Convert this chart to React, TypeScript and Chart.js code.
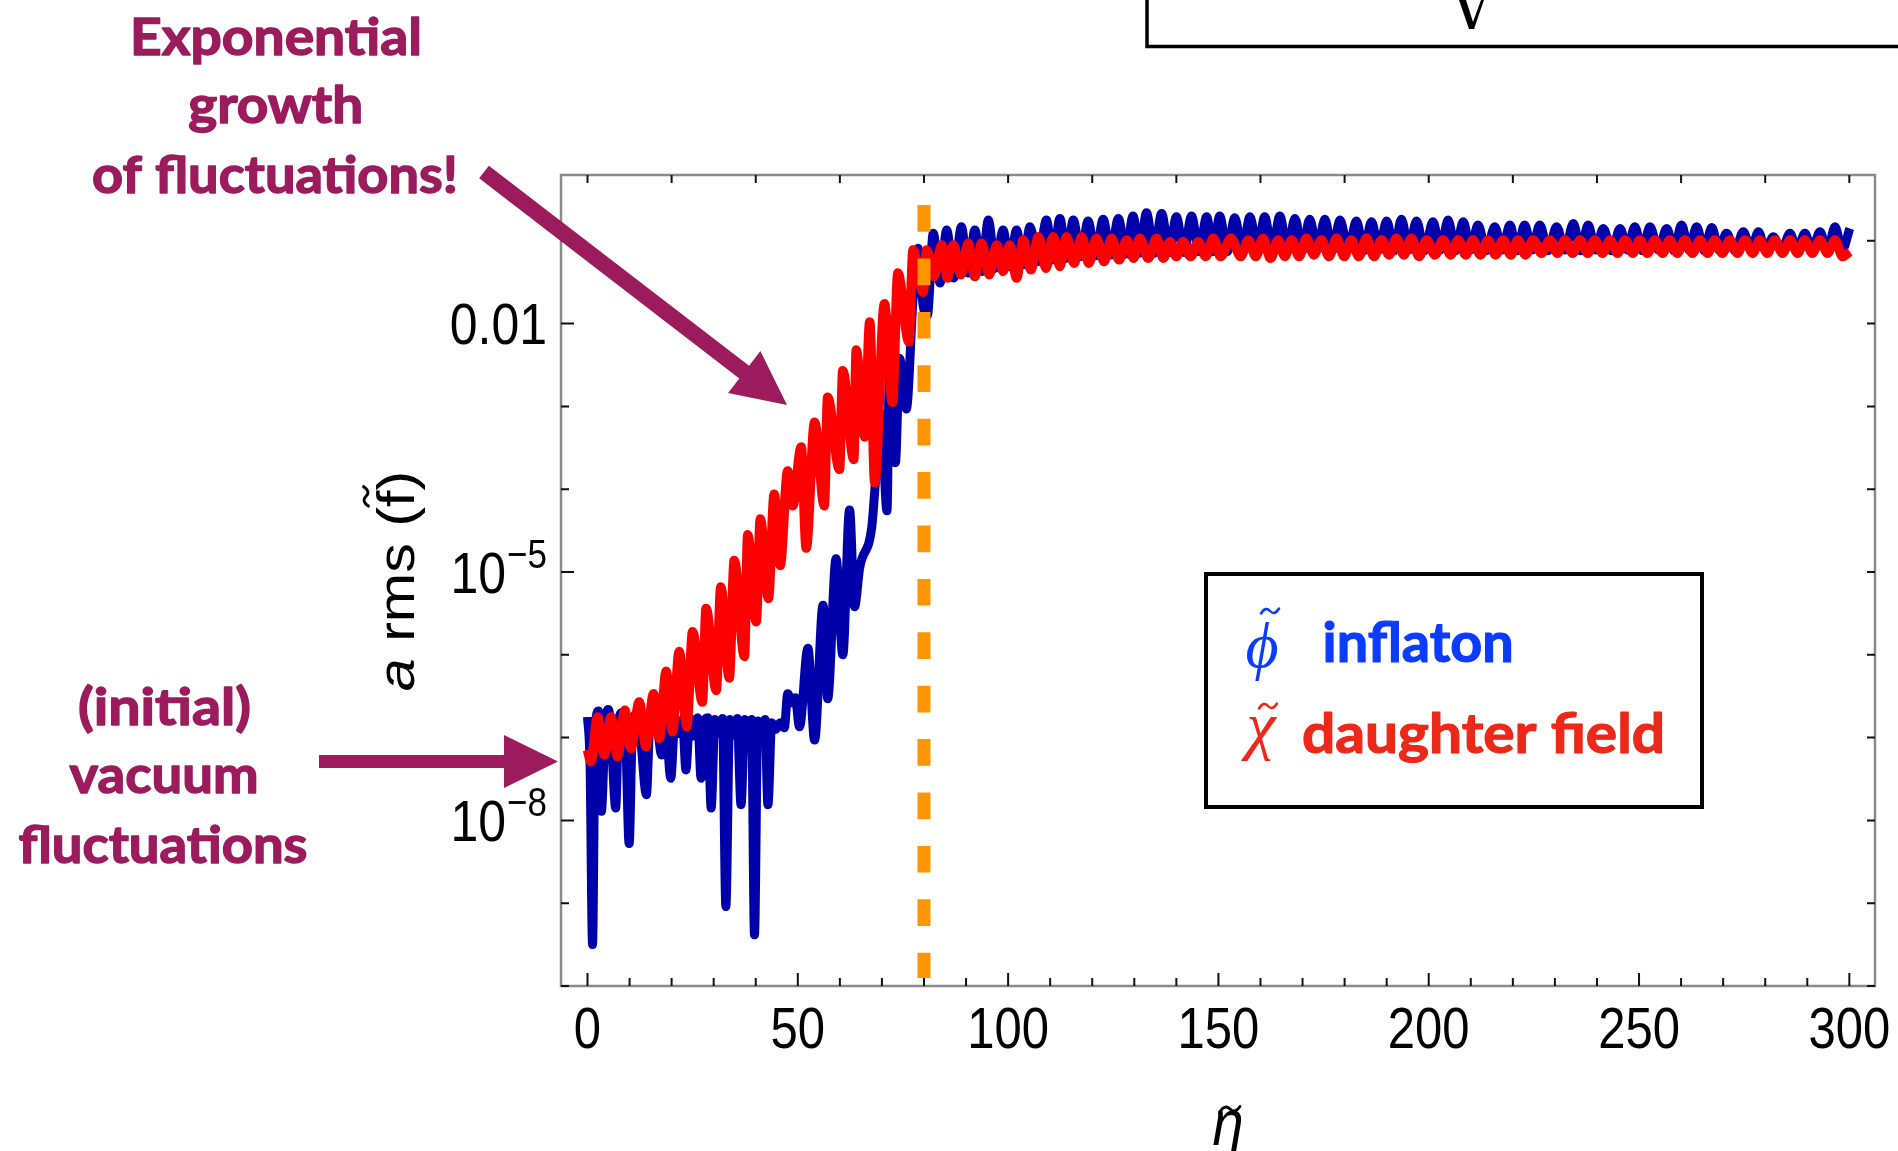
import React, { useEffect, useRef } from "react";
import { Chart, registerables } from "chart.js";

Chart.register(...registerables);

// [eta, log10(a rms)]
const inflatonPoints: [number, number][] = [
  [0, -6.75], [0.6, -7.3], [1.2, -9.5], [1.8, -6.95], [2.6, -6.68], [3.3, -7.89], [4.2, -6.85], [5.0, -6.66],
  [5.8, -7.15], [6.7, -7.85], [7.4, -6.8], [8.2, -6.7], [9.1, -7.05], [9.9, -8.28], [10.7, -6.85], [11.6, -6.72],
  [12.6, -7.0], [14.0, -7.69], [14.8, -6.85], [15.8, -6.73], [16.8, -6.95], [17.6, -7.21], [18.5, -6.78], [19.8, -7.49],
  [20.8, -6.78], [21.8, -6.95], [22.6, -6.78], [23.4, -7.39], [24.3, -6.76], [25.3, -6.98], [26.2, -6.76], [27.0, -7.49],
  [27.8, -6.8], [28.6, -6.76], [29.4, -7.85], [30.3, -6.78], [31.2, -6.95], [32.1, -6.77], [32.9, -9.04], [33.8, -6.78],
  [34.8, -6.97], [35.6, -6.77], [36.5, -7.81], [37.4, -6.78], [38.3, -6.97], [39.0, -6.78], [39.7, -9.38], [40.5, -6.8],
  [41.5, -6.96], [42.2, -6.78], [42.9, -7.81], [43.8, -6.82], [44.8, -6.9], [45.8, -6.82], [46.8, -6.88], [47.6, -6.47],
  [48.6, -6.58], [49.4, -6.52], [50.4, -6.87], [52.4, -5.92], [54.0, -7.03], [56.0, -5.4], [57.1, -6.53], [59.1, -4.84],
  [60.7, -6.0], [62.3, -4.25], [63.5, -5.42], [64.7, -4.95], [67.6, -4.45], [68.4, -3.95], [69.8, -3.09], [71.2, -4.26],
  [71.8, -2.55], [73.2, -3.68], [74.2, -2.42], [75.8, -3.03], [77.4, -1.7], [78.6, -1.09], [79.8, -1.78], [80.8, -1.9],
  [82.2, -0.91], [83.8, -1.51], [85.4, -0.87], [87.1, -1.45], [88.9, -0.83], [90.5, -1.39], [92.1, -0.87], [93.7, -1.37],
  [95.3, -0.75], [97.0, -1.33], [98.8, -0.87], [100.4, -1.31], [102.0, -0.87], [103.6, -1.29], [105.2, -0.83], [107.2, -1.25],
  [109.1, -0.75], [110.7, -1.23], [112.3, -0.73], [113.9, -1.21], [115.5, -0.75], [117.3, -1.19], [119.0, -0.76], [120.8, -1.18],
  [122.6, -0.74], [124.4, -1.17], [126.2, -0.73], [128.0, -1.16], [129.7, -0.7], [131.3, -1.15], [132.9, -0.66], [134.7, -1.15],
  [136.5, -0.67], [138.3, -1.14], [140.0, -0.71], [141.8, -1.14], [143.6, -0.7], [145.4, -1.13], [147.2, -0.71], [148.8, -1.13],
  [150.3, -0.7], [152.1, -1.13], [153.9, -0.72], [155.7, -1.12], [157.5, -0.71], [159.3, -1.11], [161.0, -0.71], [162.8, -1.12],
  [164.6, -0.7], [166.4, -1.11], [168.2, -0.73], [170.0, -1.12], [171.7, -0.74], [173.5, -1.11], [175.3, -0.74], [177.1, -1.12],
  [178.9, -0.75], [180.9, -1.11], [182.8, -0.76], [184.6, -1.12], [186.4, -0.77], [188.2, -1.11], [190.0, -0.76], [191.8, -1.12],
  [193.5, -0.74], [195.3, -1.11], [197.1, -0.76], [199.0, -1.12], [201.0, -0.77], [202.8, -1.11], [204.6, -0.75], [206.4, -1.12],
  [208.2, -0.77], [210.0, -1.11], [211.7, -0.81], [213.7, -1.12], [215.7, -0.83], [217.5, -1.11], [219.3, -0.81], [221.0, -1.12],
  [222.8, -0.81], [224.6, -1.11], [226.4, -0.81], [228.4, -1.12], [230.4, -0.83], [232.4, -1.11], [234.4, -0.79], [236.1, -1.12],
  [237.9, -0.81], [239.7, -1.11], [241.5, -0.85], [243.5, -1.12], [245.5, -0.85], [247.2, -1.11], [249.0, -0.83], [250.8, -1.12],
  [252.6, -0.83], [254.6, -1.11], [256.6, -0.85], [258.3, -1.12], [260.1, -0.81], [261.9, -1.11], [263.7, -0.83], [265.5, -1.12],
  [267.3, -0.84], [269.0, -1.11], [270.8, -0.91], [272.8, -1.12], [274.8, -0.89], [276.6, -1.11], [278.4, -0.89], [280.1, -1.12],
  [281.9, -0.95], [283.9, -1.11], [285.9, -0.91], [287.6, -1.12], [289.4, -0.91], [291.2, -1.11], [293.0, -0.89], [294.8, -1.12],
  [296.6, -0.83], [298.3, -1.11], [300.1, -0.85],
];

const daughterPoints: [number, number][] = [
  [0, -7.15], [0.8, -7.29], [2.4, -6.75], [4.0, -7.21], [5.6, -6.75], [7.1, -7.23], [8.9, -6.67], [10.3, -7.13],
  [12.3, -6.57], [13.9, -7.11], [15.7, -6.47], [17.1, -7.01], [18.7, -6.2], [20.2, -6.93], [21.8, -5.96], [23.6, -6.87],
  [25.0, -5.72], [27.3, -6.57], [28.2, -5.44], [30.6, -6.43], [31.7, -5.18], [33.7, -6.28], [34.9, -4.86], [37.3, -6.02],
  [38.1, -4.55], [40.1, -5.6], [41.1, -4.36], [43.0, -5.32], [44.4, -4.06], [45.8, -4.92], [47.6, -3.78], [48.8, -4.2],
  [50.8, -3.49], [52.0, -4.71], [54.0, -3.19], [56.3, -4.2], [57.1, -2.89], [59.9, -3.76], [60.7, -2.57], [63.3, -3.64],
  [63.9, -2.32], [65.9, -3.37], [67.1, -1.98], [68.3, -3.92], [70.6, -1.76], [72.5, -2.95], [73.8, -1.39], [76.4, -2.22],
  [77.4, -1.11], [79.8, -1.62], [80.6, -1.11], [82.4, -1.43], [84.2, -1.05], [85.6, -1.45], [87.0, -1.05], [88.8, -1.41],
  [90.5, -1.03], [92.1, -1.43], [93.7, -1.03], [95.5, -1.41], [97.3, -1.05], [98.8, -1.37], [100.4, -1.05], [102.0, -1.45],
  [103.6, -0.99], [105.4, -1.35], [107.2, -0.95], [109.0, -1.33], [110.7, -0.95], [112.3, -1.31], [113.9, -0.95], [115.7, -1.27],
  [117.5, -0.95], [119.2, -1.27], [121.0, -0.97], [122.8, -1.25], [124.6, -0.97], [126.4, -1.23], [128.2, -0.99], [129.8, -1.21],
  [131.3, -0.97], [133.3, -1.21], [135.3, -0.97], [136.9, -1.21], [138.5, -1.01], [140.0, -1.19], [141.6, -1.01], [143.4, -1.19],
  [145.2, -1.01], [147.0, -1.19], [148.8, -0.97], [150.5, -1.19], [153.0, -0.97], [155.3, -1.19], [157.1, -0.99], [158.9, -1.19],
  [160.6, -0.97], [162.4, -1.21], [164.2, -0.99], [165.8, -1.19], [167.4, -0.99], [169.2, -1.19], [170.9, -0.97], [172.7, -1.17],
  [174.5, -0.99], [176.3, -1.19], [178.1, -0.97], [179.9, -1.19], [181.6, -0.99], [183.4, -1.19], [185.2, -0.97], [187.0, -1.19],
  [188.8, -0.99], [190.6, -1.17], [192.3, -0.97], [194.1, -1.17], [195.9, -0.97], [197.7, -1.19], [199.5, -0.99], [201.5, -1.17],
  [203.4, -0.99], [205.2, -1.17], [207.0, -0.99], [208.8, -1.17], [210.5, -0.99], [212.3, -1.17], [214.1, -0.99], [215.9, -1.17],
  [217.7, -0.99], [219.5, -1.17], [221.2, -0.99], [223.0, -1.17], [224.8, -0.99], [226.8, -1.15], [228.8, -0.99], [230.6, -1.15],
  [232.4, -0.99], [234.2, -1.15], [236.0, -0.99], [237.8, -1.15], [239.5, -0.99], [241.3, -1.15], [243.1, -0.99], [244.9, -1.15],
  [246.7, -0.99], [248.5, -1.15], [250.2, -0.99], [252.0, -1.15], [253.8, -0.99], [255.6, -1.15], [257.3, -0.99], [259.1, -1.15],
  [260.9, -0.99], [262.7, -1.15], [264.5, -0.99], [266.3, -1.15], [268.0, -0.99], [269.8, -1.15], [271.6, -0.99], [273.4, -1.15],
  [275.2, -0.99], [277.0, -1.15], [278.7, -0.99], [280.5, -1.15], [282.3, -0.99], [284.1, -1.15], [285.9, -0.99], [287.7, -1.15],
  [289.4, -0.99], [291.2, -1.15], [293.0, -0.99], [294.8, -1.15], [296.6, -0.99], [298.4, -1.19], [300.1, -1.13],
];

// vertical dashed marker at the end of preheating
const markerEta = [80, 80];
const markerValue = [0.27, 1.25e-10];

const xMinorTicks = [0, 10, 20, 30, 40, 50, 60, 70, 80, 90, 100, 110, 120, 130, 140, 150, 160, 170, 180, 190, 200, 210, 220, 230, 240, 250, 260, 270, 280, 290, 300];
const xLabelTicks = [0, 50, 100, 150, 200, 250, 300];
const xTopTicks = [0, 20, 40, 60, 80, 100, 120, 140, 160, 180, 200, 220, 240, 260, 280, 300];
const yDecadeExps = [-10, -9, -8, -7, -6, -5, -4, -3, -2, -1];
const yLabelExps = [-2, -5, -8];
const yLabelBases = ["0.01", "10", "10"];
const yLabelSups = ["", "\u22125", "\u22128"];

const growthNote = ["Exponential", "growth", "of fluctuations!"];
const vacuumNote = ["(initial)", "vacuum", "fluctuations"];
const legendSymbols = ["\u03D5", "\u03C7"];
const legendNames = ["inflaton", "daughter field"];

const SANS = "'Liberation Sans', Arial, sans-serif";
const LATO = "Lato, 'Noto Sans', sans-serif";
const SERIF = "'Liberation Serif', 'DejaVu Serif', serif";
const MAROON = "#9B1B5D";

function fillScaled(ctx: CanvasRenderingContext2D, text: string, x: number, y: number, font: string, color: string, sx: number, sy: number, align: CanvasTextAlign, stroke = 0) {
  ctx.save();
  ctx.font = font;
  ctx.fillStyle = color;
  ctx.textAlign = align;
  ctx.textBaseline = "alphabetic";
  ctx.translate(x, y);
  ctx.scale(sx, sy);
  ctx.fillText(text, 0, 0);
  if (stroke > 0) {
    ctx.strokeStyle = color;
    ctx.lineWidth = stroke;
    ctx.lineJoin = "round";
    ctx.strokeText(text, 0, 0);
  }
  ctx.restore();
}

function fillFit(ctx: CanvasRenderingContext2D, text: string, x: number, y: number, font: string, color: string, targetW: number, align: CanvasTextAlign, stroke = 0) {
  ctx.font = font;
  const w = ctx.measureText(text).width;
  fillScaled(ctx, text, x, y, font, color, targetW / w, 1, align, stroke);
}

function drawTilde(ctx: CanvasRenderingContext2D, cx: number, cy: number, w: number, h: number, lw: number, color: string) {
  ctx.save();
  ctx.strokeStyle = color;
  ctx.lineWidth = lw;
  ctx.lineCap = "round";
  ctx.beginPath();
  ctx.moveTo(cx - w / 2, cy + h / 2);
  ctx.quadraticCurveTo(cx - w / 4, cy - h, cx, cy);
  ctx.quadraticCurveTo(cx + w / 4, cy + h, cx + w / 2, cy - h / 2);
  ctx.stroke();
  ctx.restore();
}

function drawArrow(ctx: CanvasRenderingContext2D, x0: number, y0: number, x1: number, y1: number, shaft: number, headLen: number, headHalf: number, color: string) {
  const dx = x1 - x0, dy = y1 - y0;
  const L = Math.hypot(dx, dy);
  const ux = dx / L, uy = dy / L;
  const nx = -uy, ny = ux;
  const bx = x1 - ux * headLen, by = y1 - uy * headLen;
  ctx.save();
  ctx.fillStyle = color;
  ctx.beginPath();
  ctx.moveTo(x0 + nx * shaft / 2, y0 + ny * shaft / 2);
  ctx.lineTo(bx + nx * shaft / 2, by + ny * shaft / 2);
  ctx.lineTo(bx + nx * headHalf, by + ny * headHalf);
  ctx.lineTo(x1, y1);
  ctx.lineTo(bx - nx * headHalf, by - ny * headHalf);
  ctx.lineTo(bx - nx * shaft / 2, by - ny * shaft / 2);
  ctx.lineTo(x0 - nx * shaft / 2, y0 - ny * shaft / 2);
  ctx.closePath();
  ctx.fill();
  ctx.restore();
}

const decorPlugin = {
  id: "decor",
  afterDraw(chart: any) {
    const ctx: CanvasRenderingContext2D = chart.ctx;
    const xs = chart.scales.x;
    const ys = chart.scales.y;
    const { left, right, top, bottom } = chart.chartArea;
    ctx.save();

    // frame
    ctx.strokeStyle = "#8a8a8a";
    ctx.lineWidth = 2.5;
    ctx.strokeRect(left, top, right - left, bottom - top);

    // ticks
    ctx.strokeStyle = "#111";
    ctx.lineWidth = 2;
    ctx.beginPath();
    xMinorTicks.forEach((v) => {
      const px = xs.getPixelForValue(v);
      const len = xLabelTicks.includes(v) ? 13 : 8;
      ctx.moveTo(px, bottom);
      ctx.lineTo(px, bottom - len);
    });
    xTopTicks.forEach((v) => {
      const px = xs.getPixelForValue(v);
      ctx.moveTo(px, top);
      ctx.lineTo(px, top + 8);
    });
    yDecadeExps.forEach((e) => {
      const py = ys.getPixelForValue(Math.pow(10, e));
      const len = yLabelExps.includes(e) ? 13 : 8;
      ctx.moveTo(left, py);
      ctx.lineTo(left + len, py);
      ctx.moveTo(right, py);
      ctx.lineTo(right - 8, py);
    });
    ctx.stroke();

    // x tick labels
    xLabelTicks.forEach((v) => {
      const px = xs.getPixelForValue(v);
      fillScaled(ctx, String(v), px, 1048, `49px ${SANS}`, "#000", 1, 1.16, "center");
    });

    // y tick labels
    yLabelExps.forEach((e, i) => {
      const py = ys.getPixelForValue(Math.pow(10, e));
      const rightEdge = 547;
      if (!yLabelSups[i]) {
        fillScaled(ctx, yLabelBases[i], rightEdge, py + 20.5, `50px ${SANS}`, "#000", 1, 1.16, "right");
      } else {
        ctx.font = `35px ${SANS}`;
        const ws = ctx.measureText(yLabelSups[i]).width;
        fillScaled(ctx, yLabelSups[i], rightEdge, py - 4, `35px ${SANS}`, "#000", 1, 1.16, "right");
        fillScaled(ctx, yLabelBases[i], rightEdge - ws - 1, py + 21, `50px ${SANS}`, "#000", 1, 1.16, "right");
      }
    });

    // y axis title: a rms (f~)
    ctx.save();
    ctx.translate(414, 581);
    ctx.rotate(-Math.PI / 2);
    ctx.scale(1.14, 1);
    ctx.fillStyle = "#000";
    ctx.textBaseline = "alphabetic";
    ctx.textAlign = "left";
    const fItal = `italic 52px ${SANS}`;
    const fReg = `52px ${SANS}`;
    ctx.font = fItal;
    const wa = ctx.measureText("a").width;
    ctx.font = fReg;
    const s1 = " rms (", s2 = "f", s3 = ")";
    const w1 = ctx.measureText(s1).width, w2 = ctx.measureText(s2).width, w3 = ctx.measureText(s3).width;
    const x0 = -(wa + w1 + w2 + w3) / 2;
    ctx.font = fItal;
    ctx.fillText("a", x0, 0);
    ctx.font = fReg;
    ctx.fillText(s1, x0 + wa, 0);
    ctx.fillText(s2, x0 + wa + w1, 0);
    ctx.fillText(s3, x0 + wa + w1 + w2, 0);
    drawTilde(ctx, x0 + wa + w1 + w2 / 2 + 2, -48, 17, 5, 2.8, "#000");
    ctx.restore();

    // x axis title: eta~
    fillScaled(ctx, "\u03B7", 1228, 1145, `italic 56px ${SANS}`, "#000", 1, 1.16, "center");
    drawTilde(ctx, 1230, 1109, 20, 5, 2.8, "#000");

    // annotations
    const noteFont = `bold 51px ${LATO}`;
    fillFit(ctx, growthNote[0], 276, 55, noteFont, MAROON, 292, "center", 1.4);
    fillFit(ctx, growthNote[1], 275.7, 123.3, noteFont, MAROON, 175, "center", 1.4);
    fillFit(ctx, growthNote[2], 275, 193.3, noteFont, MAROON, 366, "center", 1.4);
    fillFit(ctx, vacuumNote[0], 164.5, 725, noteFont, MAROON, 173, "center", 1.4);
    fillFit(ctx, vacuumNote[1], 164, 793, noteFont, MAROON, 189, "center", 1.4);
    fillFit(ctx, vacuumNote[2], 163, 863.3, noteFont, MAROON, 289, "center", 1.4);

    drawArrow(ctx, 484, 172, 787, 405, 16, 54, 26.5, MAROON);
    drawArrow(ctx, 319, 761.5, 558, 761.5, 13, 54, 26.5, MAROON);

    // legend box
    ctx.fillStyle = "#fff";
    ctx.fillRect(1206, 574, 496, 233);
    ctx.strokeStyle = "#000";
    ctx.lineWidth = 4;
    ctx.strokeRect(1206, 574, 496, 233);
    const blueTxt = "#0B3CFD";
    const redTxt = "#EC2818";
    fillScaled(ctx, legendSymbols[0], 1262, 667, `italic 64px ${SERIF}`, blueTxt, 1, 1, "center");
    drawTilde(ctx, 1270, 611, 18, 5, 2.6, blueTxt);
    fillScaled(ctx, legendSymbols[1], 1261, 747, `italic 66px ${SERIF}`, redTxt, 1, 1, "center");
    drawTilde(ctx, 1268, 706, 18, 5, 2.6, redTxt);
    fillFit(ctx, legendNames[0], 1322.6, 661.7, `bold 55px ${LATO}`, blueTxt, 191, "left", 1.2);
    fillFit(ctx, legendNames[1], 1302, 753, `bold 55px ${LATO}`, redTxt, 363, "left", 1.2);

    // formula box (cut off at the top of the slide)
    ctx.strokeStyle = "#000";
    ctx.lineWidth = 3.5;
    ctx.beginPath();
    ctx.moveTo(1147, -5);
    ctx.lineTo(1147, 46.5);
    ctx.lineTo(1905, 46.5);
    ctx.stroke();
    ctx.fillStyle = "#000";
    ctx.beginPath();
    ctx.moveTo(1459, 0);
    ctx.lineTo(1466, 0);
    ctx.lineTo(1473, 22);
    ctx.lineTo(1481, 0);
    ctx.lineTo(1484, 0);
    ctx.lineTo(1474, 29);
    ctx.lineTo(1469, 29);
    ctx.closePath();
    ctx.fill();

    ctx.restore();
  },
};

export default function App() {
  const canvasRef = useRef<HTMLCanvasElement | null>(null);

  useEffect(() => {
    const canvas = canvasRef.current;
    if (!canvas) return;
    let chart: Chart | null = null;
    let cancelled = false;

    const build = () => {
      if (cancelled) return;
      chart = new Chart(canvas, {
        type: "line",
        data: {
          datasets: [
            {
              label: "marker",
              data: markerEta.map((x, i) => ({ x, y: markerValue[i] })),
              borderColor: "#FF9600",
              borderWidth: 13,
              borderDash: [26.7, 26.7],
              borderCapStyle: "butt",
              pointRadius: 0,
              order: 0,
            },
            {
              label: "daughter field",
              data: daughterPoints.map(([x, l]) => ({ x, y: Math.pow(10, l) })),
              borderColor: "#FF0000",
              borderWidth: 9.5,
              borderJoinStyle: "round",
              cubicInterpolationMode: "monotone",
              pointRadius: 0,
              order: 1,
            },
            {
              label: "inflaton",
              data: inflatonPoints.map(([x, l]) => ({ x, y: Math.pow(10, l) })),
              borderColor: "#0000AA",
              borderWidth: 9,
              borderJoinStyle: "round",
              cubicInterpolationMode: "monotone",
              pointRadius: 0,
              order: 2,
            },
          ],
        },
        options: {
          responsive: false,
          animation: false,
          devicePixelRatio: 1,
          layout: { padding: { left: 561, right: 23, top: 175, bottom: 165 } },
          plugins: { legend: { display: false }, tooltip: { enabled: false }, title: { display: false } },
          events: [],
          scales: {
            x: { type: "linear", min: -6.3, max: 306.1, display: false },
            y: { type: "logarithmic", min: 1e-10, max: 0.6237, display: false },
          },
        } as any,
        plugins: [decorPlugin],
      });
    };

    const fontsReady = (document as any).fonts
      ? Promise.all([
          (document as any).fonts.load(`bold 51px Lato`),
          (document as any).fonts.load(`49px 'Liberation Sans'`),
          (document as any).fonts.load(`italic 62px 'Liberation Serif'`),
        ]).catch(() => null)
      : Promise.resolve(null);
    fontsReady.then(build);

    return () => {
      cancelled = true;
      if (chart) chart.destroy();
    };
  }, []);

  return (
    <div style={{ position: "fixed", left: 0, top: 0, width: 1898, height: 1151, overflow: "hidden", background: "#fff" }}>
      <canvas ref={canvasRef} width={1898} height={1151} style={{ display: "block", width: 1898, height: 1151 }} />
    </div>
  );
}
